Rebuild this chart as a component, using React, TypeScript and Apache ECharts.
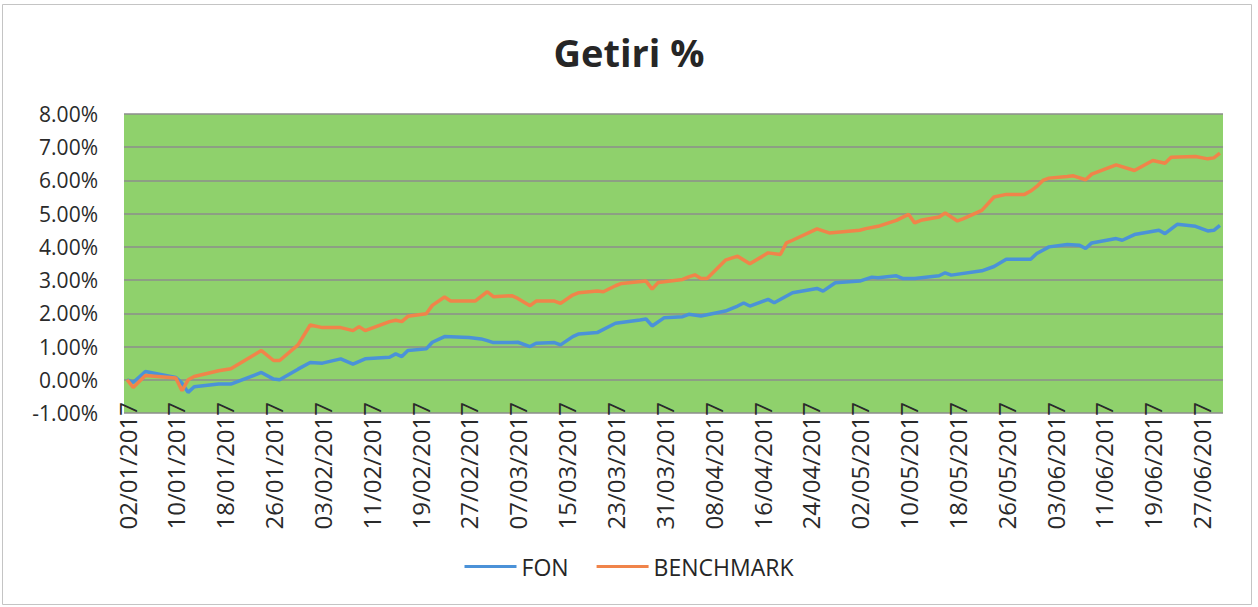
import React, { useEffect, useRef } from "react";
import * as echarts from "echarts";

// Calendar axis: every day from 02/01/2017 to 30/06/2017
const axisStart = Date.UTC(2017, 0, 2);
const axisDayCount = 180;
const categories: string[] = [];
for (let i = 0; i < axisDayCount; i++) {
  const d = new Date(axisStart + i * 86400000);
  const dd = String(d.getUTCDate()).padStart(2, "0");
  const mm = String(d.getUTCMonth() + 1).padStart(2, "0");
  categories.push(`${dd}/${mm}/2017`);
}

const yTicks = [-1, 0, 1, 2, 3, 4, 5, 6, 7, 8];

// FON (%)
const fonDates = [
  "02/01", "03/01", "05/01", "10/01", "11/01", "12/01", "13/01", "17/01", "19/01", "24/01",
  "26/01", "27/01", "30/01", "01/02", "03/02", "06/02", "08/02", "10/02", "14/02", "15/02",
  "16/02", "17/02", "20/02", "21/02", "23/02", "27/02", "01/03", "02/03", "03/03", "06/03",
  "07/03", "09/03", "10/03", "13/03", "14/03", "16/03", "17/03", "20/03", "23/03", "27/03",
  "28/03", "29/03", "31/03", "03/04", "04/04", "06/04", "10/04", "12/04", "13/04", "14/04",
  "17/04", "18/04", "21/04", "25/04", "26/04", "28/04", "02/05", "04/05", "05/05", "08/05",
  "09/05", "11/05", "15/05", "16/05", "17/05", "22/05", "24/05", "26/05", "30/05", "31/05",
  "01/06", "02/06", "05/06", "07/06", "08/06", "09/06", "13/06", "14/06", "16/06", "20/06",
  "21/06", "23/06", "26/06", "28/06", "29/06", "30/06",
];
const fonValues = [
  0, -0.08, 0.25, 0.07, -0.1, -0.38, -0.21, -0.13, -0.13, 0.22,
  0.02, 0.0, 0.32, 0.52, 0.5, 0.63, 0.47, 0.63, 0.68, 0.78,
  0.7, 0.88, 0.93, 1.13, 1.3, 1.27, 1.23, 1.18, 1.12, 1.12,
  1.13, 1.0, 1.1, 1.12, 1.05, 1.3, 1.38, 1.42, 1.7, 1.8,
  1.83, 1.62, 1.87, 1.9, 1.97, 1.92, 2.07, 2.22, 2.31, 2.22,
  2.42, 2.32, 2.62, 2.75, 2.67, 2.92, 2.97, 3.09, 3.07, 3.13,
  3.05, 3.05, 3.13, 3.22, 3.15, 3.28, 3.41, 3.63, 3.63, 3.8,
  3.9, 4.0, 4.07, 4.05, 3.95, 4.12, 4.25, 4.2, 4.37, 4.5,
  4.4, 4.68, 4.62, 4.48, 4.5, 4.65,
];

// BENCHMARK (%)
const benchDates = [
  "02/01", "03/01", "05/01", "10/01", "11/01", "12/01", "13/01", "17/01", "19/01", "24/01",
  "26/01", "27/01", "30/01", "01/02", "03/02", "06/02", "08/02", "09/02", "10/02", "14/02",
  "15/02", "16/02", "17/02", "20/02", "21/02", "23/02", "24/02", "28/02", "02/03", "03/03",
  "06/03", "07/03", "09/03", "10/03", "13/03", "14/03", "16/03", "17/03", "20/03", "21/03",
  "23/03", "24/03", "28/03", "29/03", "30/03", "31/03", "03/04", "04/04", "05/04", "06/04",
  "07/04", "10/04", "12/04", "14/04", "17/04", "19/04", "20/04", "21/04", "25/04", "27/04",
  "02/05", "03/05", "05/05", "08/05", "10/05", "11/05", "12/05", "15/05", "16/05", "18/05",
  "19/05", "22/05", "24/05", "26/05", "29/05", "30/05", "31/05", "01/06", "02/06", "05/06",
  "06/06", "08/06", "09/06", "13/06", "16/06", "19/06", "21/06", "22/06", "26/06", "28/06",
  "29/06", "30/06",
];
const benchValues = [
  0, -0.23, 0.13, 0.05, -0.33, 0.0, 0.1, 0.27, 0.33, 0.88,
  0.58, 0.58, 1.05, 1.65, 1.57, 1.57, 1.48, 1.6, 1.48, 1.75,
  1.79, 1.75, 1.91, 1.99, 2.24, 2.49, 2.37, 2.37, 2.65, 2.5,
  2.53, 2.45, 2.23, 2.37, 2.37, 2.3, 2.55, 2.62, 2.67, 2.65,
  2.83, 2.9, 2.97, 2.73, 2.93, 2.95, 3.02, 3.1, 3.16, 3.05,
  3.05, 3.6, 3.72, 3.49, 3.82, 3.77, 4.12, 4.2, 4.54, 4.42,
  4.5, 4.55, 4.62, 4.8, 4.98, 4.72, 4.8, 4.9, 5.02, 4.78,
  4.85, 5.1, 5.5, 5.58, 5.58, 5.68, 5.82, 6.0, 6.07, 6.12,
  6.14, 6.02, 6.19, 6.47, 6.3, 6.6, 6.52, 6.7, 6.72, 6.65,
  6.68, 6.82,
];

function alignToAxis(dates: string[], values: number[]): (number | null)[] {
  const m = new Map<string, number>();
  dates.forEach((d, i) => m.set(`${d}/2017`, values[i]));
  return categories.map((c) => (m.has(c) ? (m.get(c) as number) : null));
}

const FONT = "'Open Sans', 'DejaVu Sans', sans-serif";

export default function App() {
  const ref = useRef<HTMLDivElement>(null);
  useEffect(() => {
    if (!ref.current) return;
    const chart = echarts.init(ref.current, undefined, { renderer: "svg" });
    chart.setOption({
      animation: false,
      backgroundColor: "#ffffff",
      textStyle: { fontFamily: FONT },
      title: {
        text: "Getiri %",
        left: "center",
        top: 28,
        textStyle: { fontSize: 38, fontWeight: "bold", color: "#262626", fontFamily: FONT },
      },
      graphic: [
        {
          type: "rect",
          shape: { x: 2.5, y: 4.5, width: 1249, height: 600 },
          style: { fill: "none", stroke: "#c4c4c4", lineWidth: 1 },
          silent: true,
        },
      ],
      legend: {
        data: ["FON", "BENCHMARK"],
        left: "center",
        top: 550,
        icon: "rect",
        itemWidth: 52,
        itemHeight: 3,
        itemGap: 28,
        textStyle: { fontSize: 23, color: "#262626", fontFamily: FONT },
      },
      grid: {
        left: 124,
        right: 35,
        top: 114,
        bottom: 194,
        show: true,
        backgroundColor: "#8fd16c",
        borderWidth: 0,
      },
      xAxis: {
        type: "category",
        data: categories,
        boundaryGap: true,
        axisLine: { show: false },
        axisTick: { show: false },
        axisLabel: {
          interval: 7,
          rotate: 90,
          margin: -11,
          fontSize: 24,
          color: "#2a2a2a",
          fontFamily: FONT,
        },
        splitLine: { show: false },
      },
      yAxis: {
        type: "value",
        min: yTicks[0],
        max: yTicks[yTicks.length - 1],
        interval: 1,
        axisLine: { show: false },
        axisTick: { show: false },
        axisLabel: {
          margin: 26,
          fontSize: 21,
          color: "#2a2a2a",
          fontFamily: FONT,
          formatter: (v: number) => `${v.toFixed(2)}%`,
        },
        splitLine: { show: true, lineStyle: { color: "#8c8c8c", width: 1.5 } },
      },
      series: [
        {
          name: "FON",
          type: "line",
          data: alignToAxis(fonDates, fonValues),
          connectNulls: true,
          showSymbol: false,
          symbol: "none",
          lineStyle: { color: "#4b92d8", width: 3.5 },
          itemStyle: { color: "#4b92d8" },
        },
        {
          name: "BENCHMARK",
          type: "line",
          data: alignToAxis(benchDates, benchValues),
          connectNulls: true,
          showSymbol: false,
          symbol: "none",
          lineStyle: { color: "#f0844a", width: 3.5 },
          itemStyle: { color: "#f0844a" },
        },
      ],
    });
    return () => chart.dispose();
  }, []);
  return (
    <div
      ref={ref}
      style={{ position: "fixed", left: 0, top: 0, width: 1258, height: 607 }}
    />
  );
}
